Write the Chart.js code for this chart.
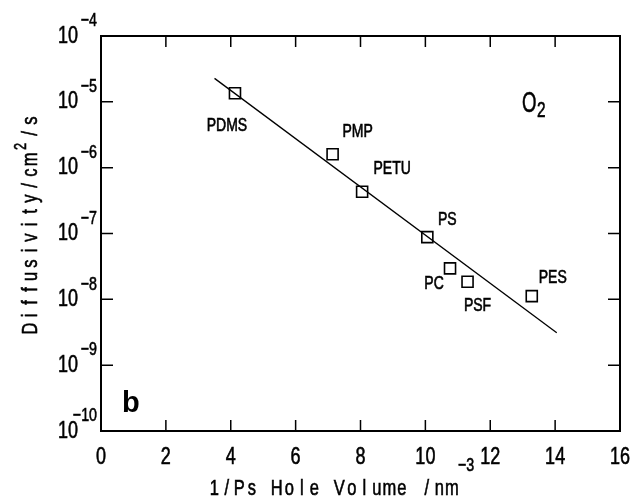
<!DOCTYPE html>
<html>
<head>
<meta charset="utf-8">
<script src="https://cdn.jsdelivr.net/npm/chart.js@4.4.0/dist/chart.umd.min.js"></script>
<style>
  html, body { margin: 0; padding: 0; background: #fff; }
  canvas { display: block; }
</style>
</head>
<body>
<canvas id="diffChart" width="634" height="498"></canvas>
<script>
// polymers (point labels)
const polymers = ['PDMS', 'PMP', 'PETU', 'PS', 'PC', 'PSF', 'PES'];
// 1/Ps hole volume, nm^-3
const holeVolumeInv = [4.13, 7.14, 8.05, 10.06, 10.76, 11.30, 13.28];
// O2 diffusivity, cm2/s
const diffusivity = [1.35e-5, 1.6e-6, 4.3e-7, 8.8e-8, 2.95e-8, 1.85e-8, 1.12e-8];
// fitted line, end points
const fitX = [3.5, 14.05];
const fitY = [2.27e-5, 3.1e-9];
// tick values
const xTicks = [0, 2, 4, 6, 8, 10, 12, 14, 16];
const yTickExp = [-4, -5, -6, -7, -8, -9, -10];

// where each point label sits relative to its square (px)
const labelOffsets = [[-8, 33], [25, -22], [30, -23], [20, -17], [-16, 16], [10, 24], [21, -18]];

const FONT = '"Liberation Sans", Arial, sans-serif';

function txt(ctx, s, x, y, size, o) {
    o = o || {};
    ctx.save();
    ctx.font = (o.bold ? 'bold ' : '') + size + 'px ' + FONT;
    ctx.textAlign = o.align || 'center';
    ctx.textBaseline = o.baseline || 'middle';
    ctx.translate(x, y);
    ctx.scale(o.sx || 1, 1);
    ctx.fillText(s, 0, 0);
    if (!o.bold) {
        // plotter-like strokes are a bit heavier
        ctx.lineWidth = 0.6;
        ctx.strokeText(s, 0, 0);
    }
    ctx.restore();
}

// monospaced-looking text, one char per cell
function spaced(ctx, s, x0, y, pitch, size, sx) {
    for (let i = 0; i < s.length; i++) {
        if (s[i] === ' ') continue;
        txt(ctx, s[i], x0 + (i + 0.5) * pitch, y, size, { sx: sx, baseline: 'alphabetic' });
    }
}

const framePlugin = {
    id: 'frame',
    afterDraw(chart) {
        const ctx = chart.ctx;
        const a = chart.chartArea;
        const xs = chart.scales.x, ys = chart.scales.y;
        ctx.save();
        ctx.fillStyle = '#000';
        ctx.strokeStyle = '#000';

        // frame
        ctx.lineWidth = 2;
        ctx.strokeRect(a.left, a.top, a.right - a.left, a.bottom - a.top);

        // ticks, inward on all sides
        ctx.lineWidth = 1.5;
        ctx.beginPath();
        xTicks.forEach(v => {
            const px = xs.getPixelForValue(v);
            ctx.moveTo(px, a.bottom); ctx.lineTo(px, a.bottom - 11);
            ctx.moveTo(px, a.top); ctx.lineTo(px, a.top + 11);
        });
        yTickExp.forEach(e => {
            const py = ys.getPixelForValue(Math.pow(10, e));
            ctx.moveTo(a.left, py); ctx.lineTo(a.left + 12, py);
            ctx.moveTo(a.right, py); ctx.lineTo(a.right - 12, py);
        });
        ctx.stroke();

        // x tick labels
        xTicks.forEach(v => {
            txt(ctx, String(v), xs.getPixelForValue(v), 457, 24, { sx: 0.75 });
        });

        // y tick labels 10^e
        yTickExp.forEach(e => {
            const py = ys.getPixelForValue(Math.pow(10, e));
            txt(ctx, '10', a.left - 23, py, 24, { sx: 0.75, align: 'right' });
            txt(ctx, '\u2212' + String(-e), a.left - 4, py - 15, 19, { sx: 0.75, align: 'right' });
        });

        // x title
        spaced(ctx, '1/Ps Hole Volume /nm', 208, 495, 12.5, 22, 0.75);
        txt(ctx, '\u22123', 458, 466, 19, { sx: 0.75, align: 'left' });

        // y title (rotated)
        ctx.save();
        ctx.translate(37, 335);
        ctx.rotate(-Math.PI / 2);
        spaced(ctx, 'Diffusivity/cm', 0, 0, 13, 22, 0.75);
        txt(ctx, '2', 14.5 * 13, -11, 17, { sx: 0.75, baseline: 'alphabetic' });
        spaced(ctx, '/s', 15 * 13, 0, 13, 22, 0.75);
        ctx.restore();

        // point labels
        polymers.forEach((name, i) => {
            const px = xs.getPixelForValue(holeVolumeInv[i]);
            const py = ys.getPixelForValue(diffusivity[i]);
            txt(ctx, name, px + labelOffsets[i][0], py + labelOffsets[i][1], 17.5, { sx: 0.8 });
        });

        // gas label and panel letter
        txt(ctx, 'O', 522, 112, 30, { sx: 0.62, align: 'left', baseline: 'alphabetic' });
        txt(ctx, '2', 537, 117, 22, { sx: 0.7, align: 'left', baseline: 'alphabetic' });
        txt(ctx, 'b', 122, 412, 29, { bold: true, align: 'left', baseline: 'alphabetic' });

        ctx.restore();
    }
};

new Chart(document.getElementById('diffChart').getContext('2d'), {
    type: 'scatter',
    data: {
        datasets: [
            {
                label: 'O2',
                data: holeVolumeInv.map((x, i) => ({ x: x, y: diffusivity[i] })),
                pointStyle: 'rect',
                pointRadius: 7.8,
                borderColor: '#000',
                backgroundColor: 'rgba(0,0,0,0)',
                borderWidth: 1.6
            },
            {
                type: 'line',
                label: 'fit',
                data: fitX.map((x, i) => ({ x: x, y: fitY[i] })),
                borderColor: '#000',
                borderWidth: 1.3,
                pointRadius: 0,
                fill: false
            }
        ]
    },
    options: {
        responsive: false,
        animation: false,
        layout: { padding: { left: 101, right: 14, top: 36, bottom: 67 } },
        plugins: { legend: { display: false }, tooltip: { enabled: false } },
        scales: {
            x: { type: 'linear', min: 0, max: 16, display: false },
            y: { type: 'logarithmic', min: 1e-10, max: 1e-4, display: false }
        }
    },
    plugins: [framePlugin]
});
</script>
</body>
</html>
